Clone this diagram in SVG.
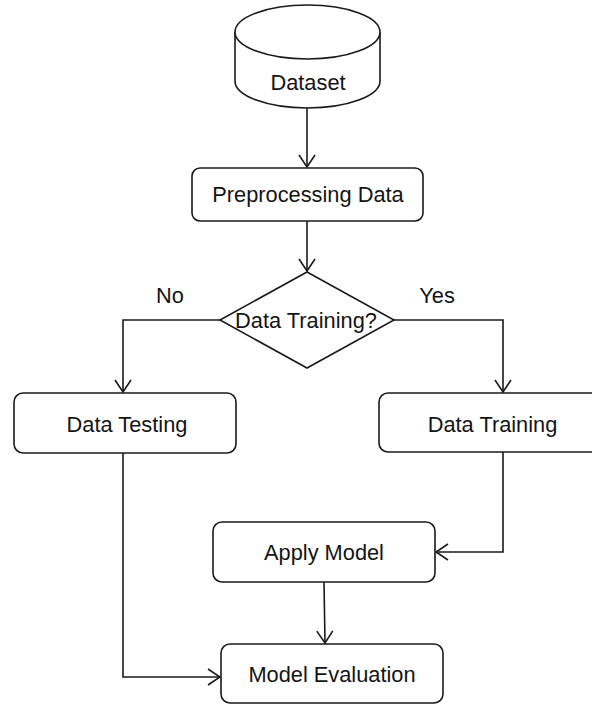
<svg xmlns="http://www.w3.org/2000/svg" width="592" height="704" viewBox="0 0 592 704">
<defs>
<style>
.shape{fill:#ffffff;stroke:#1a1a1a;stroke-width:1.6}
.lbl{font-family:"Liberation Sans",Arial,sans-serif;font-size:21.8px;fill:#141414;text-anchor:middle}
.edge{fill:none;stroke:#1a1a1a;stroke-width:1.6}
</style>
<marker id="open" viewBox="0 0 14 18" markerWidth="14" markerHeight="18" refX="13" refY="9" orient="auto" markerUnits="userSpaceOnUse">
<path d="M1,1 L13,9 L1,17" fill="none" stroke="#1a1a1a" stroke-width="1.6"/>
</marker>
</defs>
<rect width="592" height="704" fill="#ffffff"/>
<g id="connectors">
<path class="edge" d="M307,108 L307,167" marker-end="url(#open)"/>
<path class="edge" d="M307,221 L307,271" marker-end="url(#open)"/>
<path class="edge" d="M220,320 L123,320 L123,392" marker-end="url(#open)"/>
<path class="edge" d="M394,320 L503,320 L503,392" marker-end="url(#open)"/>
<path class="edge" d="M503,452 L503,552 L436,552" marker-end="url(#open)"/>
<path class="edge" d="M123,453 L123,677 L220,677" marker-end="url(#open)"/>
<path class="edge" d="M324,582 L325,643" marker-end="url(#open)"/>
<text class="lbl" x="170" y="303">No</text>
<text class="lbl" x="437" y="303">Yes</text>
</g>
<g id="dataset">
<path class="shape" d="M235,32 L235,81 A72.5,27 0 0 0 380,81 L380,32"/>
<ellipse class="shape" cx="307.5" cy="32" rx="72.5" ry="27"/>
<text class="lbl" x="308" y="90">Dataset</text>
</g>
<g id="preprocessing">
<rect class="shape" x="192" y="168" width="231" height="53" rx="8"/>
<text class="lbl" x="308" y="202">Preprocessing Data</text>
</g>
<g id="decision">
<polygon class="shape" points="307,272 394,320 307,368 220,320"/>
<text class="lbl" x="306" y="328">Data Training?</text>
</g>
<g id="data-testing">
<rect class="shape" x="14" y="393" width="222" height="60" rx="9"/>
<text class="lbl" x="127" y="432">Data Testing</text>
</g>
<g id="data-training">
<rect class="shape" x="379" y="393" width="230" height="59" rx="9"/>
<text class="lbl" x="492.5" y="432">Data Training</text>
</g>
<g id="apply-model">
<rect class="shape" x="213" y="522" width="222" height="60" rx="9"/>
<text class="lbl" x="324" y="560">Apply Model</text>
</g>
<g id="model-evaluation">
<rect class="shape" x="221" y="644" width="222" height="59" rx="9"/>
<text class="lbl" x="332" y="682">Model Evaluation</text>
</g>
</svg>
